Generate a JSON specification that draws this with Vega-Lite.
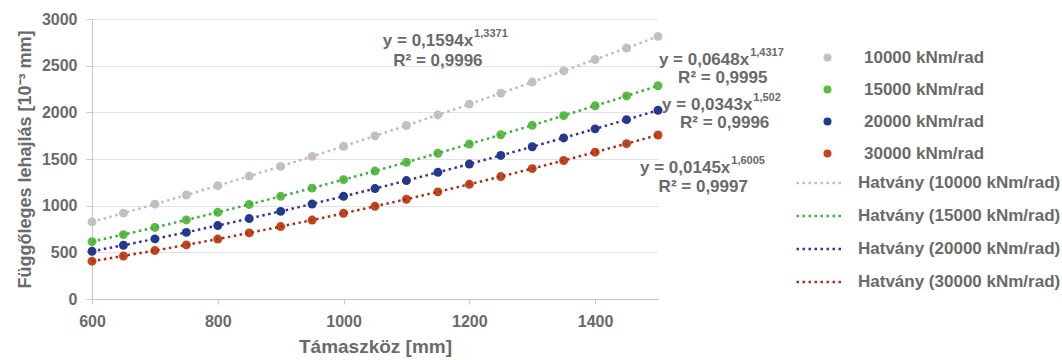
{
  "$schema": "https://vega.github.io/schema/vega-lite/v6.json",
  "autosize": {"type": "none"},
  "padding": {"left": 92, "top": 19, "right": 404, "bottom": 61},
  "width": 566,
  "height": 280,
  "background": "#ffffff",
  "config": {
    "view": {"stroke": null},
    "font": "Liberation Sans",
    "axis": {
      "labelFont": "Liberation Sans", "labelFontWeight": "bold", "labelColor": "#6a6a6a",
      "titleFont": "Liberation Sans", "titleFontWeight": "bold", "titleColor": "#6a6a6a",
      "domainColor": "#c8c8c8", "tickColor": "#c8c8c8", "gridColor": "#e2e2e2"
    },
    "legend": {
      "orient": "none", "title": null, "padding": 0,
      "labelFont": "Liberation Sans", "labelFontWeight": "bold", "labelFontSize": 17,
      "labelColor": "#6a6a6a", "labelLimit": 300, "rowPadding": 14
    }
  },
  "datasets": {
    "pts": [
      {"s":"10000 kNm/rad","x":600,"y":826},{"s":"10000 kNm/rad","x":650,"y":920},{"s":"10000 kNm/rad","x":700,"y":1016},{"s":"10000 kNm/rad","x":750,"y":1114},{"s":"10000 kNm/rad","x":800,"y":1214},{"s":"10000 kNm/rad","x":850,"y":1317},{"s":"10000 kNm/rad","x":900,"y":1421},{"s":"10000 kNm/rad","x":950,"y":1528},{"s":"10000 kNm/rad","x":1000,"y":1636},{"s":"10000 kNm/rad","x":1050,"y":1747},{"s":"10000 kNm/rad","x":1100,"y":1859},{"s":"10000 kNm/rad","x":1150,"y":1972},{"s":"10000 kNm/rad","x":1200,"y":2088},{"s":"10000 kNm/rad","x":1250,"y":2205},{"s":"10000 kNm/rad","x":1300,"y":2324},{"s":"10000 kNm/rad","x":1350,"y":2444},{"s":"10000 kNm/rad","x":1400,"y":2566},{"s":"10000 kNm/rad","x":1450,"y":2689},{"s":"10000 kNm/rad","x":1500,"y":2814},
      {"s":"15000 kNm/rad","x":600,"y":615},{"s":"15000 kNm/rad","x":650,"y":690},{"s":"15000 kNm/rad","x":700,"y":767},{"s":"15000 kNm/rad","x":750,"y":847},{"s":"15000 kNm/rad","x":800,"y":929},{"s":"15000 kNm/rad","x":850,"y":1013},{"s":"15000 kNm/rad","x":900,"y":1100},{"s":"15000 kNm/rad","x":950,"y":1188},{"s":"15000 kNm/rad","x":1000,"y":1279},{"s":"15000 kNm/rad","x":1050,"y":1371},{"s":"15000 kNm/rad","x":1100,"y":1465},{"s":"15000 kNm/rad","x":1150,"y":1562},{"s":"15000 kNm/rad","x":1200,"y":1660},{"s":"15000 kNm/rad","x":1250,"y":1760},{"s":"15000 kNm/rad","x":1300,"y":1861},{"s":"15000 kNm/rad","x":1350,"y":1965},{"s":"15000 kNm/rad","x":1400,"y":2070},{"s":"15000 kNm/rad","x":1450,"y":2176},{"s":"15000 kNm/rad","x":1500,"y":2285},
      {"s":"20000 kNm/rad","x":600,"y":511},{"s":"20000 kNm/rad","x":650,"y":576},{"s":"20000 kNm/rad","x":700,"y":644},{"s":"20000 kNm/rad","x":750,"y":714},{"s":"20000 kNm/rad","x":800,"y":787},{"s":"20000 kNm/rad","x":850,"y":862},{"s":"20000 kNm/rad","x":900,"y":939},{"s":"20000 kNm/rad","x":950,"y":1018},{"s":"20000 kNm/rad","x":1000,"y":1100},{"s":"20000 kNm/rad","x":1050,"y":1183},{"s":"20000 kNm/rad","x":1100,"y":1269},{"s":"20000 kNm/rad","x":1150,"y":1357},{"s":"20000 kNm/rad","x":1200,"y":1446},{"s":"20000 kNm/rad","x":1250,"y":1538},{"s":"20000 kNm/rad","x":1300,"y":1631},{"s":"20000 kNm/rad","x":1350,"y":1726},{"s":"20000 kNm/rad","x":1400,"y":1823},{"s":"20000 kNm/rad","x":1450,"y":1922},{"s":"20000 kNm/rad","x":1500,"y":2022},
      {"s":"30000 kNm/rad","x":600,"y":405},{"s":"30000 kNm/rad","x":650,"y":461},{"s":"30000 kNm/rad","x":700,"y":519},{"s":"30000 kNm/rad","x":750,"y":579},{"s":"30000 kNm/rad","x":800,"y":642},{"s":"30000 kNm/rad","x":850,"y":708},{"s":"30000 kNm/rad","x":900,"y":776},{"s":"30000 kNm/rad","x":950,"y":846},{"s":"30000 kNm/rad","x":1000,"y":918},{"s":"30000 kNm/rad","x":1050,"y":993},{"s":"30000 kNm/rad","x":1100,"y":1069},{"s":"30000 kNm/rad","x":1150,"y":1148},{"s":"30000 kNm/rad","x":1200,"y":1229},{"s":"30000 kNm/rad","x":1250,"y":1312},{"s":"30000 kNm/rad","x":1300,"y":1397},{"s":"30000 kNm/rad","x":1350,"y":1484},{"s":"30000 kNm/rad","x":1400,"y":1573},{"s":"30000 kNm/rad","x":1450,"y":1664},{"s":"30000 kNm/rad","x":1500,"y":1757}
    ]
  },
  "layer": [
    {
      "data": {"name": "pts"},
      "mark": {"type": "circle", "size": 80, "opacity": 1},
      "encoding": {
        "x": {"field": "x", "type": "quantitative",
              "scale": {"domain": [600, 1500], "nice": false, "zero": false},
              "axis": {"values": [600, 800, 1000, 1200, 1400], "format": "d", "grid": false, "labelFlush": false, "labelFontSize": 16, "tickSize": 5, "labelPadding": 9,
                       "title": "Támaszköz [mm]", "titleFontSize": 19, "titlePadding": 8}},
        "y": {"field": "y", "type": "quantitative",
              "scale": {"domain": [0, 3000], "nice": false},
              "axis": {"values": [0, 500, 1000, 1500, 2000, 2500, 3000], "format": "d", "labelFlush": false, "labelFontSize": 16, "tickSize": 6, "labelPadding": 9,
                       "title": "Függőleges lehajlás  [10⁻³ mm]", "titleFontSize": 18, "titlePadding": 7}},
        "fill": {"field": "s", "type": "nominal",
                 "scale": {"domain": ["10000 kNm/rad", "15000 kNm/rad", "20000 kNm/rad", "30000 kNm/rad"],
                           "range": ["#c4c0bf", "#5cbb45", "#1f3a8a", "#c1461e"]},
                 "legend": {"legendX": 727, "legendY": 30, "symbolType": "circle", "symbolSize": 64, "symbolStrokeWidth": 0, "labelOffset": 28}}
      }
    },
    {
      "data": {"name": "pts"},
      "mark": {"type": "line", "strokeWidth": 2.5, "strokeDash": [2.5, 3.5], "strokeCap": "butt"},
      "encoding": {
        "x": {"field": "x", "type": "quantitative"},
        "y": {"field": "y", "type": "quantitative"},
        "stroke": {"field": "s", "type": "nominal",
                   "scale": {"range": ["#c7b8b8", "#3cb03c", "#3a319c", "#a8301c"]},
                   "legend": {"legendX": 703, "legendY": 139, "rowPadding": -16, "symbolType": "stroke", "symbolSize": 2209, "symbolStrokeWidth": 2.5,
                              "symbolDash": [2.5, 3.5], "labelOffset": 13, "labelExpr": "'Hatvány (' + datum.label + ')'"}}
      }
    },
    {
      "data": {"values": [
        {"x": 1206, "y": 2764, "t": "y = 0,1594x"},
        {"x": 1645, "y": 2561, "t": "y = 0,0648x"},
        {"x": 1650, "y": 2079, "t": "y = 0,0343x"},
        {"x": 1615, "y": 1404, "t": "y = 0,0145x"}
      ]},
      "mark": {"type": "text", "align": "right", "baseline": "middle", "fontSize": 17, "fontWeight": "bold", "color": "#6a6a6a", "font": "Liberation Sans", "clip": false},
      "encoding": {"x": {"field": "x", "type": "quantitative"}, "y": {"field": "y", "type": "quantitative"}, "text": {"field": "t"}}
    },
    {
      "data": {"values": [
        {"x": 1206, "y": 2764, "t": "1,3371"},
        {"x": 1645, "y": 2561, "t": "1,4317"},
        {"x": 1650, "y": 2079, "t": "1,502"},
        {"x": 1615, "y": 1404, "t": "1,6005"}
      ]},
      "mark": {"type": "text", "align": "left", "baseline": "middle", "dx": 1, "dy": -7, "fontSize": 11, "fontWeight": "bold", "color": "#6a6a6a", "font": "Liberation Sans", "clip": false},
      "encoding": {"x": {"field": "x", "type": "quantitative"}, "y": {"field": "y", "type": "quantitative"}, "text": {"field": "t"}}
    },
    {
      "data": {"values": [
        {"x": 1150, "y": 2550, "t": "R² = 0,9996"},
        {"x": 1603, "y": 2368, "t": "R² = 0,9995"},
        {"x": 1606, "y": 1886, "t": "R² = 0,9996"},
        {"x": 1572, "y": 1200, "t": "R² = 0,9997"}
      ]},
      "mark": {"type": "text", "align": "center", "baseline": "middle", "fontSize": 17, "fontWeight": "bold", "color": "#6a6a6a", "font": "Liberation Sans", "clip": false},
      "encoding": {"x": {"field": "x", "type": "quantitative"}, "y": {"field": "y", "type": "quantitative"}, "text": {"field": "t"}}
    }
  ]
}
